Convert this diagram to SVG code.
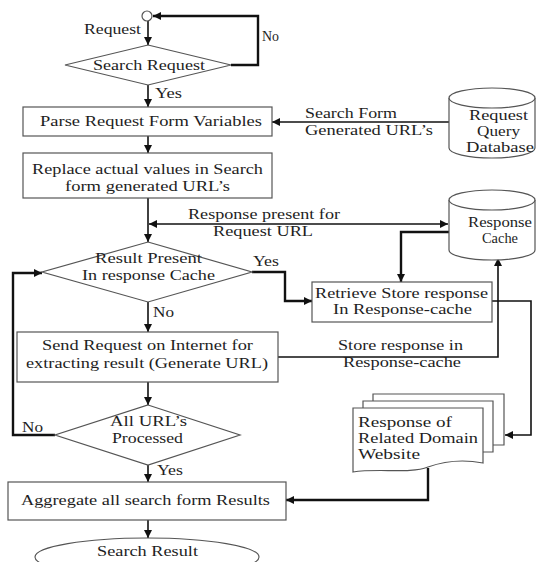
<svg xmlns="http://www.w3.org/2000/svg" width="538" height="562" viewBox="0 0 538 562">
<style>
text{font-family:"Liberation Serif","Times New Roman",serif;font-size:15px;fill:#1e1e1e;}
.sh{fill:#fff;stroke:#555;stroke-width:1.2;}
.ln{fill:none;stroke:#111;stroke-width:1.6;}
.tk{fill:none;stroke:#111;stroke-width:2.4;}
</style>
<defs>
<marker id="ah" viewBox="0 0 10 10" refX="10" refY="5" markerWidth="9" markerHeight="8" markerUnits="userSpaceOnUse" orient="auto-start-reverse">
<path d="M0,0 L10,5 L0,10 z" fill="#111"/>
</marker>
</defs>
<rect width="538" height="562" fill="#fff"/>
<g id="connectors">
<path class="ln" d="M148,21 V45" marker-end="url(#ah)"/>
<path class="tk" d="M231,65 H258 V16 H153" marker-end="url(#ah)"/>
<path class="ln" d="M148,85 V107" marker-end="url(#ah)"/>
<path class="ln" d="M449,122 H272" marker-end="url(#ah)"/>
<path class="ln" d="M148,136 V153" marker-end="url(#ah)"/>
<path class="ln" d="M148,198 V242" marker-end="url(#ah)"/>
<path class="ln" d="M149,224 H448" marker-start="url(#ah)" marker-end="url(#ah)"/>
<path class="tk" d="M449,232 H401 V282" marker-end="url(#ah)"/>
<path class="tk" d="M252,272 H285 V301 H312" marker-end="url(#ah)"/>
<path class="ln" d="M148,302 V332" marker-end="url(#ah)"/>
<path class="ln" d="M492,301 H531 V435 H505" marker-end="url(#ah)"/>
<path class="ln" d="M278,357 H498 V258" marker-end="url(#ah)"/>
<path class="ln" d="M148,382 V405" marker-end="url(#ah)"/>
<path class="tk" d="M55,435 H13 V273 H42" marker-end="url(#ah)"/>
<path class="ln" d="M148,465 V482" marker-end="url(#ah)"/>
<path class="tk" d="M428,468 V500 H286" marker-end="url(#ah)"/>
<path class="ln" d="M148,520 V538" marker-end="url(#ah)"/>
</g>
<g id="labels">
<text x="84" y="34" textLength="57" lengthAdjust="spacingAndGlyphs">Request</text>
<text x="262" y="41" textLength="17" lengthAdjust="spacingAndGlyphs">No</text>
<text x="155" y="98" textLength="27" lengthAdjust="spacingAndGlyphs">Yes</text>
<text x="305" y="118" textLength="92" lengthAdjust="spacingAndGlyphs">Search Form</text>
<text x="305" y="135" textLength="128" lengthAdjust="spacingAndGlyphs">Generated URL’s</text>
<text x="188" y="219" textLength="152" lengthAdjust="spacingAndGlyphs">Response present for</text>
<text x="213" y="236" textLength="100" lengthAdjust="spacingAndGlyphs">Request URL</text>
<text x="253" y="266" textLength="26" lengthAdjust="spacingAndGlyphs">Yes</text>
<text x="153" y="317" textLength="21" lengthAdjust="spacingAndGlyphs">No</text>
<text x="338" y="350" textLength="125" lengthAdjust="spacingAndGlyphs">Store response in</text>
<text x="343" y="367" textLength="118" lengthAdjust="spacingAndGlyphs">Response-cache</text>
<text x="22" y="432" textLength="21" lengthAdjust="spacingAndGlyphs">No</text>
<text x="157" y="475" textLength="26" lengthAdjust="spacingAndGlyphs">Yes</text>
</g>
<g id="start">
<circle cx="147" cy="16" r="5" class="sh"/>
</g>
<g id="search-request">
<polygon class="sh" points="148,45 231,65 148,85 65,65"/>
<text x="93" y="70" textLength="112" lengthAdjust="spacingAndGlyphs">Search Request</text>
</g>
<g id="parse">
<rect class="sh" x="23" y="107" width="249" height="29"/>
<text x="40" y="126" textLength="222" lengthAdjust="spacingAndGlyphs">Parse Request Form Variables</text>
</g>
<g id="request-db">
<path class="sh" d="M449,98 V148 A43,10 0 0 0 535,148 V98 A43,10 0 0 0 449,98 Z"/>
<path class="sh" fill="none" d="M449,98 A43,10 0 0 0 535,98"/>
<text x="469" y="120" textLength="59" lengthAdjust="spacingAndGlyphs">Request</text>
<text x="477" y="136" textLength="43" lengthAdjust="spacingAndGlyphs">Query</text>
<text x="466" y="152" textLength="68" lengthAdjust="spacingAndGlyphs">Database</text>
</g>
<g id="replace">
<rect class="sh" x="23" y="153" width="249" height="45"/>
<text x="32" y="174" textLength="231" lengthAdjust="spacingAndGlyphs">Replace actual values in Search</text>
<text x="65" y="191" textLength="165" lengthAdjust="spacingAndGlyphs">form generated URL’s</text>
</g>
<g id="response-cache">
<path class="sh" d="M449,200 V250 A43,10 0 0 0 535,250 V200 A43,10 0 0 0 449,200 Z"/>
<path class="sh" fill="none" d="M449,200 A43,10 0 0 0 535,200"/>
<text x="468" y="227" textLength="64" lengthAdjust="spacingAndGlyphs">Response</text>
<text x="482" y="243" textLength="36" lengthAdjust="spacingAndGlyphs">Cache</text>
</g>
<g id="result-present">
<polygon class="sh" points="148,242 252,272 148,302 42,272"/>
<text x="95" y="263" textLength="107" lengthAdjust="spacingAndGlyphs">Result Present</text>
<text x="82" y="280" textLength="133" lengthAdjust="spacingAndGlyphs">In response Cache</text>
</g>
<g id="retrieve">
<rect class="sh" x="312" y="282" width="180" height="40"/>
<text x="315" y="298" textLength="173" lengthAdjust="spacingAndGlyphs">Retrieve Store response</text>
<text x="333" y="314" textLength="139" lengthAdjust="spacingAndGlyphs">In Response-cache</text>
</g>
<g id="send-request">
<rect class="sh" x="17" y="332" width="261" height="50"/>
<text x="42" y="350" textLength="211" lengthAdjust="spacingAndGlyphs">Send Request on Internet for</text>
<text x="26" y="368" textLength="242" lengthAdjust="spacingAndGlyphs">extracting result (Generate URL)</text>
</g>
<g id="response-doc">
<path class="sh" d="M373,394 H504 V445 H373 Z"/>
<path class="sh" d="M363,401 H493 V452 H363 Z"/>
<path class="sh" d="M353,408 H483 V463 C462,459 442,462 428,467 C410,474 378,468 353,472 Z"/>
<text x="358" y="427" textLength="94" lengthAdjust="spacingAndGlyphs">Response of</text>
<text x="358" y="443" textLength="120" lengthAdjust="spacingAndGlyphs">Related Domain</text>
<text x="358" y="459" textLength="62" lengthAdjust="spacingAndGlyphs">Website</text>
</g>
<g id="all-processed">
<polygon class="sh" points="148,405 240,435 148,465 55,435"/>
<text x="110" y="426" textLength="77" lengthAdjust="spacingAndGlyphs">All URL’s</text>
<text x="112" y="443" textLength="71" lengthAdjust="spacingAndGlyphs">Processed</text>
</g>
<g id="aggregate">
<rect class="sh" x="8" y="482" width="278" height="38"/>
<text x="21" y="505" textLength="249" lengthAdjust="spacingAndGlyphs">Aggregate all search form Results</text>
</g>
<g id="search-result">
<ellipse class="sh" cx="147" cy="557" rx="112" ry="19"/>
<text x="97" y="556" textLength="101" lengthAdjust="spacingAndGlyphs">Search Result</text>
</g>
</svg>
